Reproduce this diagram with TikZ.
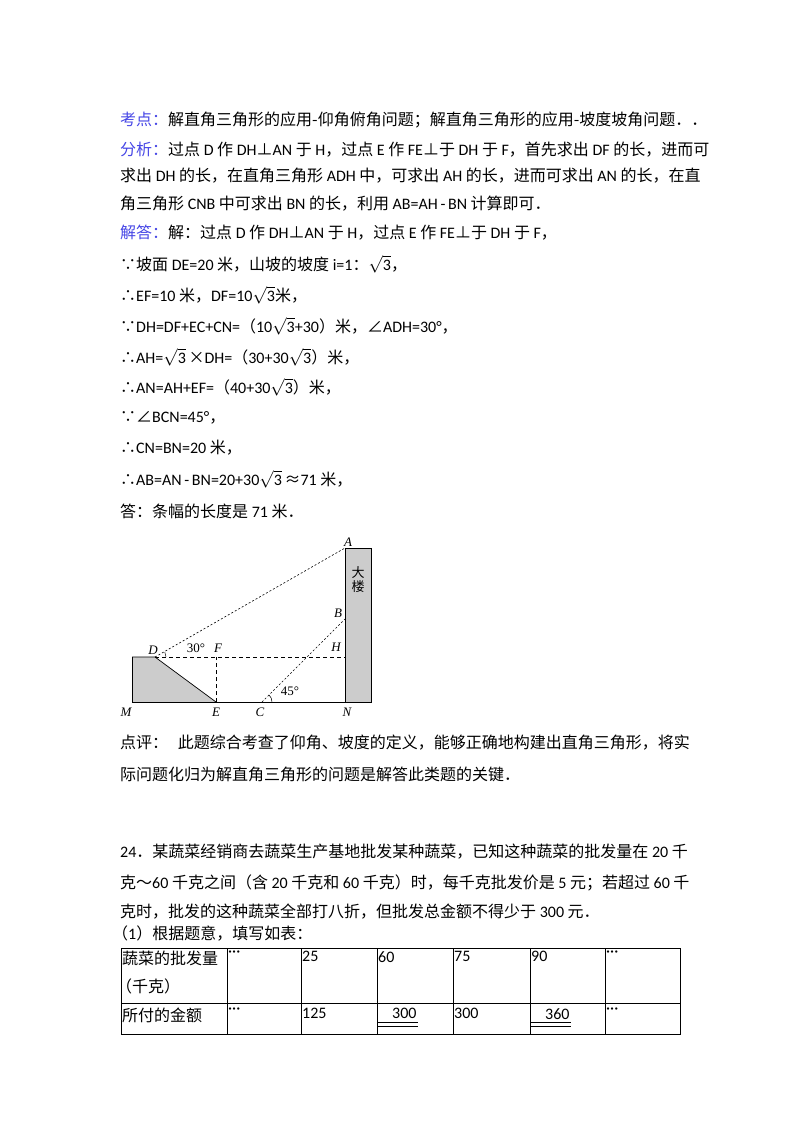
\documentclass[tikz,border=0pt]{standalone}
\usetikzlibrary{calc}
\usepackage{fontspec}
\setmainfont{Noto Sans CJK SC}
\newfontfamily\lat{Carlito}
\newfontfamily\tms{Liberation Serif}
\definecolor{blu}{RGB}{70,70,230}
\newcommand\bl[1]{\textcolor{blu}{#1}}
\newcommand\la[1]{{\lat #1}}
\newcommand\sq{$\sqrt{\mbox{\lat 3}}$}
\begin{document}
\begin{tikzpicture}[x=1pt,y=-1pt,
  tl/.style={anchor=west,inner sep=0pt,font=\fontsize{16}{16}\selectfont},
  fl/.style={inner sep=0pt,font=\tms\itshape\fontsize{13}{13}\selectfont},
  fa/.style={inner sep=0pt,font=\tms\fontsize{13}{13}\selectfont},
  dl/.style={dash pattern=on 2pt off 2pt,line width=0.6pt},
  dh/.style={dash pattern=on 4pt off 3pt,line width=0.6pt},
  cl/.style={anchor=north west,inner sep=0pt,font=\fontsize{16}{16}\selectfont}]
\useasboundingbox (0,0) rectangle (800,1132);
\fill[white] (0,0) rectangle (800,1132);
\node[tl] (t1) at (120,120) {\bl{考点：}解直角三角形的应用-仰角俯角问题；解直角三角形的应用-坡度坡角问题．．};
\node[tl] (t2) at (120,150) {\bl{分析：}过点 \la{D} 作 \la{DH}⊥\la{AN} 于 \la{H}，过点 \la{E} 作 \la{FE}⊥于 \la{DH} 于 \la{F}，首先求出 \la{DF} 的长，进而可};
\node[tl] (t3) at (120,176) {求出 \la{DH} 的长，在直角三角形 \la{ADH} 中，可求出 \la{AH} 的长，进而可求出 \la{AN} 的长，在直};
\node[tl] (t4) at (120,204) {角三角形 \la{CNB} 中可求出 \la{BN} 的长，利用 \la{AB=AH\,-\,BN} 计算即可．};
\node[tl] (t5) at (120,233) {\bl{解答：}解：过点 \la{D} 作 \la{DH}⊥\la{AN} 于 \la{H}，过点 \la{E} 作 \la{FE}⊥于 \la{DH} 于 \la{F}，};
\node[tl] (t6) at (120,264) {∵坡面 \la{DE=20} 米，山坡的坡度 \la{i=1}：\sq，};
\node[tl] (t7) at (120,295) {∴\la{EF=10} 米，\la{DF=10}\sq 米，};
\node[tl] (t8) at (120,326) {∵\la{DH=DF+EC+CN=}（\la{10}\sq\la{+30}）米，∠\la{ADH=30°}，};
\node[tl] (t9) at (120,357) {∴\la{AH=}\sq\,×\la{DH=}（\la{30+30}\sq）米，};
\node[tl] (t10) at (120,387) {∴\la{AN=AH+EF=}（\la{40+30}\sq）米，};
\node[tl] (t11) at (120,418) {∵∠\la{BCN=45°}，};
\node[tl] (t12) at (120,448) {∴\la{CN=BN=20} 米，};
\node[tl] (t13) at (120,479) {∴\la{AB=AN\,-\,BN=20+30}\sq\,≈\la{71} 米，};
\node[tl] (t14) at (120,511) {答：条幅的长度是 \la{71} 米．};
% figure
\coordinate (M) at (132,702); \coordinate (N) at (345,702);
\coordinate (D) at (155,657); \coordinate (E) at (216,702);
\coordinate (F) at (216,657); \coordinate (H) at (345,657);
\coordinate (A) at (345,548); \coordinate (C) at (262,702);
\coordinate (B) at (345,619); \coordinate (P) at (132,657);
\fill[gray!40] (P) -- (D) -- (E) -- (M) -- cycle;
\draw[line width=0.7pt] (P) -- (D) -- (E);
\draw[line width=0.7pt] (P) -- (M);
\draw[fill=gray!40,line width=0.7pt] (345,548) rectangle (371,702);
\draw[line width=0.7pt] (M) -- (N);
\draw[dl] (D) -- (A);
\draw[dl] (C) -- (B);
\draw[dh] (D) -- (H);
\draw[dh] (E) -- (F);
\draw[line width=0.5pt] ($(D)+(11,0)$) arc[start angle=0,end angle=-27,radius=11];
\draw[line width=0.5pt] ($(C)+(10,0)$) arc[start angle=0,end angle=-45,radius=10];
\node[fl] (lA) at (348,542) {A};
\node[fl] (lB) at (338,613) {B};
\node[fl] (lH) at (336,647) {H};
\node[fl] (lD) at (153,650) {D};
\node[fl] (lF) at (218,648) {F};
\node[fa] (l30) at (196,648) {30°};
\node[fa] (l45) at (290,691) {45°};
\node[fl] (lM) at (126,712) {M};
\node[fl] (lE) at (216,712) {E};
\node[fl] (lC) at (260,712) {C};
\node[fl] (lN) at (347,712) {N};
\node[inner sep=0pt,font=\fontsize{13}{13}\selectfont,align=center] (lou) at (358,580) {大\\[1pt]楼};
% comment
\node[tl] (t15) at (120,743) {点评：\hspace{0.6em}此题综合考查了仰角、坡度的定义，能够正确地构建出直角三角形，将实};
\node[tl] (t16) at (120,774) {际问题化归为解直角三角形的问题是解答此类题的关键．};
\node[tl] (t17) at (120,852) {\la{24}．某蔬菜经销商去蔬菜生产基地批发某种蔬菜，已知这种蔬菜的批发量在 \la{20} 千};
\node[tl] (t18) at (120,883) {克～\la{60} 千克之间（含 \la{20} 千克和 \la{60} 千克）时，每千克批发价是 \la{5} 元；若超过 \la{60} 千};
\node[tl] (t19) at (120,912) {克时，批发的这种蔬菜全部打八折，但批发总金额不得少于 \la{300} 元．};
\node[tl] (t20) at (112,933) {（\la{1}）根据题意，填写如表：};
% table
\draw[line width=0.7pt] (121,948) rectangle (680,1034);
\draw[line width=0.7pt] (121,1003) -- (680,1003);
\foreach \x in {227,301,377,453,530,605} \draw[line width=0.7pt] (\x,948) -- (\x,1034);
\node[cl] (c1) at (122,951) {蔬菜的批发量};
\node[cl] (c1b) at (116,979) {（千克）};
\node[cl] (c2) at (122,1008) {所付的金额};
\foreach \x/\a/\b in {227/···/···,301/25/125,453/75/300,605/···/···}
  {\node[cl] at (\x+1,951) {\la{\a}}; \node[cl] at (\x+1,1008) {\la{\b}};}
\node[cl] (c60) at (378,951) {\la{60}};
\node[cl] (c90) at (531,951) {\la{90}};
\node[cl] (u1) at (392,1008) {\la{300}};
\node[cl] (u2) at (545,1008) {\la{360}};
\draw[line width=0.5pt] (377,1022) -- (418,1022);
\draw[line width=0.5pt] (377,1026) -- (418,1026);
\draw[line width=0.5pt] (530,1022) -- (571,1022);
\draw[line width=0.5pt] (530,1026) -- (571,1026);
\end{tikzpicture}
\end{document}
